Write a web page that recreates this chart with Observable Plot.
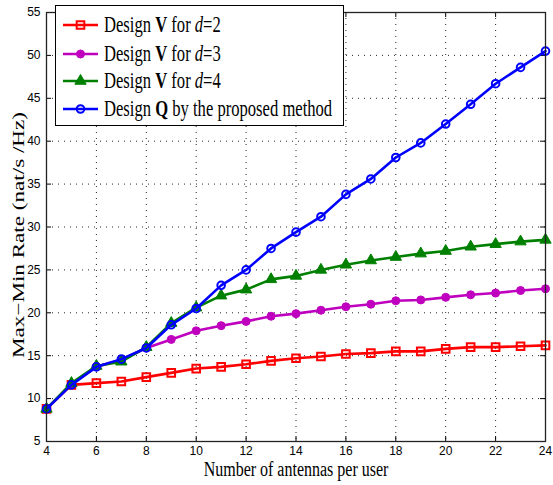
<!DOCTYPE html>
<html>
<head>
<meta charset="utf-8">
<script src="https://cdn.jsdelivr.net/npm/d3@7"></script>
<script src="https://cdn.jsdelivr.net/npm/@observablehq/plot@0.6"></script>
<style>
  body { margin: 0; background: #fff; }
  #wrap { position: relative; width: 553px; height: 485px; }
  #legend {
    position: absolute; left: 55px; top: 5px; width: 289px; height: 121px;
    box-sizing: border-box; border: 1.2px solid #000; background: #fff;
    font-family: "Liberation Serif", "Times New Roman", serif; font-size: 16.6px; color: #000;
  }
  .row { position: absolute; left: 6px; height: 22px; display: flex; align-items: center; white-space: nowrap; }
  .row svg { margin-right: 5px; flex: none; }
  .row span { display: inline-block; transform: scaleY(1.33); transform-origin: left center; }
</style>
</head>
<body>
<div id="wrap"><div id="legend"></div></div>
<script>
const antennas = [4, 5, 6, 7, 8, 9, 10, 11, 12, 13, 14, 15, 16, 17, 18, 19, 20, 21, 22, 23, 24];
const rateV2 = [8.8, 11.6, 11.8, 12.0, 12.5, 13.0, 13.5, 13.7, 14.0, 14.4, 14.7, 14.9, 15.2, 15.3, 15.5, 15.5, 15.8, 16.0, 16.0, 16.1, 16.2];
const rateV3 = [8.8, 11.7, 13.7, 14.5, 15.9, 16.9, 17.9, 18.5, 19.0, 19.6, 19.9, 20.3, 20.7, 21.0, 21.4, 21.5, 21.8, 22.1, 22.3, 22.6, 22.8];
const rateV4 = [8.8, 11.8, 13.8, 14.3, 16.0, 18.8, 20.6, 22.0, 22.7, 23.9, 24.3, 25.0, 25.6, 26.1, 26.5, 26.9, 27.2, 27.7, 28.0, 28.3, 28.5];
const rateQ  = [8.8, 11.6, 13.7, 14.6, 15.9, 18.6, 20.5, 23.2, 25.0, 27.5, 29.4, 31.2, 33.8, 35.6, 38.1, 39.8, 42.0, 44.3, 46.7, 48.6, 50.5];

const xTicks = [4, 6, 8, 10, 12, 14, 16, 18, 20, 22, 24];
const yTicks = [5, 10, 15, 20, 25, 30, 35, 40, 45, 50, 55];

const seriesNames = ["Design V for d=2", "Design V for d=3", "Design V for d=4", "Design Q by the proposed method"];
const legendHTML = [
  'Design <b>V</b> for <i>d</i>=2',
  'Design <b>V</b> for <i>d</i>=3',
  'Design <b>V</b> for <i>d</i>=4',
  'Design <b>Q</b> by the proposed method'
];
const seriesValues = [rateV2, rateV3, rateV4, rateQ];
const seriesColors = ["#ff0000", "#bf00bf", "#008000", "#0000ff"];
const seriesSymbols = ["square", "circle", "triangle", "circle"];
const seriesFilled = [false, true, true, false];
const seriesR = [4.3, 4, 4.2, 3.8];

const xLabel = "Number of antennas per user";
const yLabel = "Max\u2212Min Rate (nat/s /Hz)";

const W = 553, H = 485, mL = 46, mR = 8, mT = 12, mB = 44;
const innerW = W - mL - mR, innerH = H - mT - mB;

const rows = [];
seriesValues.forEach((vals, s) => vals.forEach((v, i) => rows.push({ s, a: antennas[i], v })));

const serif = "Liberation Serif, Times New Roman, serif";
const marks = [
  Plot.gridX(xTicks.slice(1, -1), { stroke: "#000", strokeOpacity: 0.85, strokeDasharray: "1,5", strokeWidth: 1 }),
  Plot.gridY(yTicks.slice(1, -1), { stroke: "#000", strokeOpacity: 0.85, strokeDasharray: "1,5", strokeWidth: 1 }),
  Plot.tickX(xTicks, { x: d => d, insetTop: innerH - 5, stroke: "#000" }),
  Plot.tickX(xTicks, { x: d => d, insetBottom: innerH - 5, stroke: "#000" }),
  Plot.tickY(yTicks, { y: d => d, insetRight: innerW - 5, stroke: "#000" }),
  Plot.tickY(yTicks, { y: d => d, insetLeft: innerW - 5, stroke: "#000" }),
];
seriesValues.forEach((vals, s) => {
  const data = rows.filter(r => r.s === s);
  marks.push(Plot.line(data, { x: "a", y: "v", stroke: seriesColors[s], strokeWidth: 2.6 }));
  marks.push(Plot.dot(data, {
    x: "a", y: "v", symbol: seriesSymbols[s], r: seriesR[s],
    stroke: seriesColors[s], strokeWidth: seriesFilled[s] ? 1 : 2,
    fill: seriesFilled[s] ? seriesColors[s] : "none"
  }));
});
marks.push(
  Plot.frame({ stroke: "#222", strokeWidth: 1.3 }),
  Plot.axisX(xTicks, { tickSize: 0, tickPadding: 5, fontSize: 12 }),
  Plot.axisY(yTicks, { tickSize: 0, tickPadding: 6, fontSize: 12 }),
  Plot.text([xLabel], { frameAnchor: "bottom", textAnchor: "middle", dy: 34, fontFamily: serif, fontSize: 16 }),
  Plot.text([yLabel], { frameAnchor: "left", textAnchor: "middle", dx: -28, dy: 8, rotate: -90, fontFamily: serif, fontSize: 17 })
);

const chart = Plot.plot({
  width: W, height: H,
  marginLeft: mL, marginRight: mR, marginTop: mT, marginBottom: mB,
  x: { domain: [4, 24], label: null },
  y: { domain: [5, 55], label: null },
  style: { fontFamily: "Liberation Sans, Arial, sans-serif", fontSize: "12px", color: "#000", background: "transparent", overflow: "visible" },
  marks
});
// the reference figure is stretched vertically: stretch the axis titles the same way
d3.select(chart).selectAll("text").each(function () {
  const t = this.textContent;
  const tr = this.getAttribute("transform") || "";
  if (t === xLabel) this.setAttribute("transform", tr + " scale(1,1.28)");
  else if (t === yLabel) this.setAttribute("transform", tr + " scale(1.36,1)");
});
const wrap = document.getElementById("wrap");
wrap.insertBefore(chart, wrap.firstChild);

// legend
const legend = document.getElementById("legend");
const rowTops = [8, 36.5, 64, 91.5];
seriesNames.forEach((name, s) => {
  const row = document.createElement("div");
  row.className = "row";
  row.style.top = rowTops[s] + "px";
  const sw = d3.create("svg").attr("width", 37).attr("height", 22);
  sw.append("line").attr("x1", 1).attr("x2", 36).attr("y1", 11).attr("y2", 11)
    .attr("stroke", seriesColors[s]).attr("stroke-width", 2.6);
  const symType = { square: d3.symbolSquare, circle: d3.symbolCircle, triangle: d3.symbolTriangle }[seriesSymbols[s]];
  sw.append("path").attr("transform", "translate(18.5,11)")
    .attr("d", d3.symbol(symType, Math.PI * seriesR[s] * seriesR[s])())
    .attr("fill", seriesFilled[s] ? seriesColors[s] : "none")
    .attr("stroke", seriesColors[s]).attr("stroke-width", seriesFilled[s] ? 1 : 2);
  row.appendChild(sw.node());
  const span = document.createElement("span");
  span.innerHTML = legendHTML[s];
  span.title = name;
  row.appendChild(span);
  legend.appendChild(row);
});
</script>
</body>
</html>
